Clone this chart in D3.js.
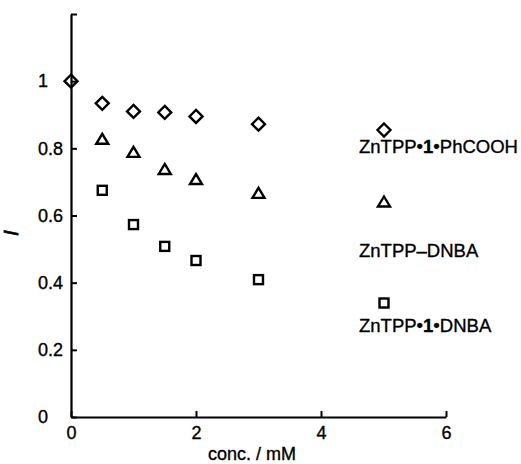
<!DOCTYPE html>
<html><head><meta charset="utf-8">
<script src="https://cdn.jsdelivr.net/npm/d3@7"></script>
<style>
body{margin:0;background:#fff;}
text{font-family:"Liberation Sans",Arial,sans-serif;fill:#000;stroke:#000;stroke-width:0.35px;}
</style></head>
<body><svg id="c" width="521" height="464"></svg>
<script>
// Data
const concPhCOOH = [0, 0.5, 1.0, 1.5, 2.0, 3.0];
const valPhCOOH  = [1.0, 0.934, 0.910, 0.907, 0.895, 0.872];
const concDNBA   = [0.5, 1.0, 1.5, 2.0, 3.0];
const valDNBA    = [0.827, 0.788, 0.737, 0.707, 0.666];
const conc1DNBA  = [0.5, 1.0, 1.5, 2.0, 3.0];
const val1DNBA   = [0.675, 0.573, 0.508, 0.466, 0.409];
const xTicks = [0, 2, 4, 6];
const yTicks = [0, 0.2, 0.4, 0.6, 0.8, 1, 1.2];
const yTickLabels = ["0", "0.2", "0.4", "0.6", "0.8", "1", ""];
const legendNames = [["ZnTPP•", "1", "•PhCOOH"], ["ZnTPP–DNBA"], ["ZnTPP•", "1", "•DNBA"]];
const shapes = ["diamond", "triangle", "square"];

const svg = d3.select("#c");
const x = d3.scaleLinear().domain([0, 6]).range([71, 446]);
const y = d3.scaleLinear().domain([0, 1.2]).range([417, 14]);

const FS = 18;
// axes
const xAxis = d3.axisBottom(x).tickValues(xTicks).tickSize(-6).tickSizeOuter(0).tickPadding(9).tickFormat(d3.format("d"));
const gx = svg.append("g").attr("transform", `translate(0,${y(0)})`).call(xAxis);
const yAxis = d3.axisLeft(y).tickValues(yTicks).tickSize(-6).tickSizeOuter(0).tickFormat((d,i)=>yTickLabels[i]);
const gy = svg.append("g").attr("transform", `translate(${x(0)},0)`).call(yAxis);
[gx, gy].forEach(g => {
  g.select(".domain").attr("stroke", "#000").attr("stroke-width", 2.2);
  g.selectAll(".tick line").attr("stroke", "#000").attr("stroke-width", 2);
  g.selectAll(".tick text").attr("font-size", FS).attr("font-family", "Liberation Sans, Arial, sans-serif").attr("fill", "#000");
});
gx.selectAll(".tick text").attr("dy", "0.71em");
// y tick labels are left-aligned in the original
gy.selectAll(".tick text").attr("text-anchor", "start").attr("x", 38 - x(0));

// axis titles
svg.append("text").attr("x", 252).attr("y", 460).attr("text-anchor", "middle").attr("font-size", FS).text("conc. / mM");
svg.append("text").attr("transform", `translate(18,${233}) rotate(-90)`).attr("text-anchor", "middle")
  .attr("font-size", 21).attr("font-style", "italic").style("stroke-width", "0.8px").text("I");

function marker(g, shape, cx, cy) {
  if (shape === "diamond") {
    g.append("path").attr("d", `M${cx},${cy-6.5}L${cx+6.5},${cy}L${cx},${cy+6.5}L${cx-6.5},${cy}Z`);
  } else if (shape === "triangle") {
    g.append("path").attr("d", `M${cx},${cy-5.5}L${cx+6},${cy+4.5}L${cx-6},${cy+4.5}Z`);
  } else {
    g.append("rect").attr("x", cx-4.5).attr("y", cy-4.5).attr("width", 9).attr("height", 9);
  }
}
const series = [[concPhCOOH, valPhCOOH], [concDNBA, valDNBA], [conc1DNBA, val1DNBA]];
const mg = svg.append("g").attr("fill", "none").attr("stroke", "#000").attr("stroke-width", 2.4).attr("stroke-linejoin", "miter");
series.forEach((s, i) => {
  s[0].forEach((c, j) => marker(mg, shapes[i], x(c), y(s[1][j])));
});

// legend
const legMarkY = [130, 202, 303];
const legTextY = [153, 257, 332];
legendNames.forEach((parts, i) => {
  marker(mg, shapes[i], 384, legMarkY[i]);
  const t = svg.append("text").attr("x", 359).attr("y", legTextY[i]).attr("font-size", 18.5);
  parts.forEach(p => {
    const ts = t.append("tspan").text(p);
    if (p === "1") ts.attr("font-weight", "bold");
  });
});
</script></body></html>
